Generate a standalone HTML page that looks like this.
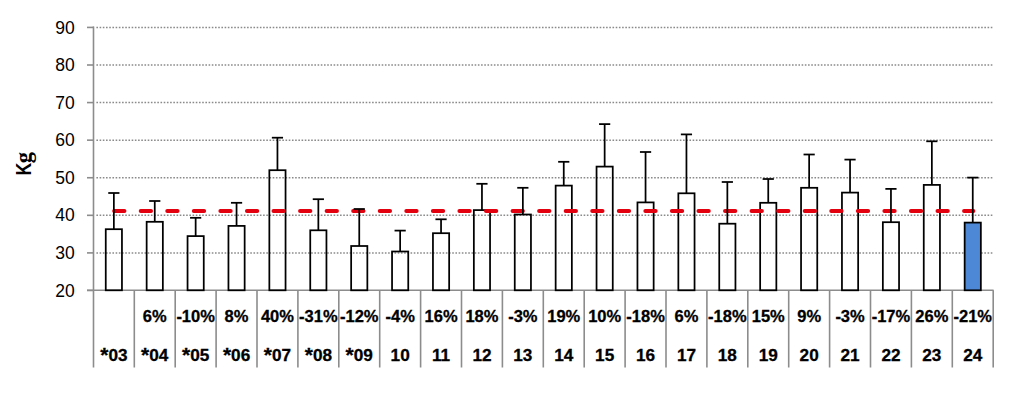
<!DOCTYPE html><html><head><meta charset="utf-8"><style>html,body{margin:0;padding:0;background:#fff;width:1024px;height:410px;overflow:hidden}svg{display:block}text{font-family:"Liberation Sans",sans-serif}</style></head><body>
<svg width="1024" height="410" viewBox="0 0 1024 410">
<rect width="1024" height="410" fill="#fff"/>
<line x1="96.4" y1="27.42" x2="993" y2="27.42" stroke="#8a8a8a" stroke-width="1.5" stroke-dasharray="1.6 1.6056"/>
<line x1="96.4" y1="65.00" x2="993" y2="65.00" stroke="#8a8a8a" stroke-width="1.5" stroke-dasharray="1.6 1.6056"/>
<line x1="96.4" y1="102.58" x2="993" y2="102.58" stroke="#8a8a8a" stroke-width="1.5" stroke-dasharray="1.6 1.6056"/>
<line x1="96.4" y1="140.16" x2="993" y2="140.16" stroke="#8a8a8a" stroke-width="1.5" stroke-dasharray="1.6 1.6056"/>
<line x1="96.4" y1="177.74" x2="993" y2="177.74" stroke="#8a8a8a" stroke-width="1.5" stroke-dasharray="1.6 1.6056"/>
<line x1="96.4" y1="215.32" x2="993" y2="215.32" stroke="#8a8a8a" stroke-width="1.5" stroke-dasharray="1.6 1.6056"/>
<line x1="96.4" y1="252.90" x2="993" y2="252.90" stroke="#8a8a8a" stroke-width="1.5" stroke-dasharray="1.6 1.6056"/>
<line x1="87" y1="27.42" x2="94" y2="27.42" stroke="#8c8c8c" stroke-width="1.6"/>
<text x="74.8" y="33.52" font-size="17.5" text-anchor="end" fill="#000">90</text>
<line x1="87" y1="65.00" x2="94" y2="65.00" stroke="#8c8c8c" stroke-width="1.6"/>
<text x="74.8" y="71.10" font-size="17.5" text-anchor="end" fill="#000">80</text>
<line x1="87" y1="102.58" x2="94" y2="102.58" stroke="#8c8c8c" stroke-width="1.6"/>
<text x="74.8" y="108.68" font-size="17.5" text-anchor="end" fill="#000">70</text>
<line x1="87" y1="140.16" x2="94" y2="140.16" stroke="#8c8c8c" stroke-width="1.6"/>
<text x="74.8" y="146.26" font-size="17.5" text-anchor="end" fill="#000">60</text>
<line x1="87" y1="177.74" x2="94" y2="177.74" stroke="#8c8c8c" stroke-width="1.6"/>
<text x="74.8" y="183.84" font-size="17.5" text-anchor="end" fill="#000">50</text>
<line x1="87" y1="215.32" x2="94" y2="215.32" stroke="#8c8c8c" stroke-width="1.6"/>
<text x="74.8" y="221.42" font-size="17.5" text-anchor="end" fill="#000">40</text>
<line x1="87" y1="252.90" x2="94" y2="252.90" stroke="#8c8c8c" stroke-width="1.6"/>
<text x="74.8" y="259.00" font-size="17.5" text-anchor="end" fill="#000">30</text>
<line x1="87" y1="290.48" x2="94" y2="290.48" stroke="#8c8c8c" stroke-width="1.6"/>
<text x="74.8" y="296.58" font-size="17.5" text-anchor="end" fill="#000">20</text>
<line x1="93.5" y1="26.6" x2="93.5" y2="367.5" stroke="#8c8c8c" stroke-width="1.6"/>
<line x1="87" y1="290.3" x2="993.6" y2="290.3" stroke="#8c8c8c" stroke-width="1.6"/>
<line x1="134.30" y1="290.3" x2="134.30" y2="367.5" stroke="#8c8c8c" stroke-width="1.6"/>
<line x1="175.20" y1="290.3" x2="175.20" y2="367.5" stroke="#8c8c8c" stroke-width="1.6"/>
<line x1="216.10" y1="290.3" x2="216.10" y2="367.5" stroke="#8c8c8c" stroke-width="1.6"/>
<line x1="257.00" y1="290.3" x2="257.00" y2="367.5" stroke="#8c8c8c" stroke-width="1.6"/>
<line x1="297.90" y1="290.3" x2="297.90" y2="367.5" stroke="#8c8c8c" stroke-width="1.6"/>
<line x1="338.80" y1="290.3" x2="338.80" y2="367.5" stroke="#8c8c8c" stroke-width="1.6"/>
<line x1="379.70" y1="290.3" x2="379.70" y2="367.5" stroke="#8c8c8c" stroke-width="1.6"/>
<line x1="420.60" y1="290.3" x2="420.60" y2="367.5" stroke="#8c8c8c" stroke-width="1.6"/>
<line x1="461.50" y1="290.3" x2="461.50" y2="367.5" stroke="#8c8c8c" stroke-width="1.6"/>
<line x1="502.40" y1="290.3" x2="502.40" y2="367.5" stroke="#8c8c8c" stroke-width="1.6"/>
<line x1="543.30" y1="290.3" x2="543.30" y2="367.5" stroke="#8c8c8c" stroke-width="1.6"/>
<line x1="584.20" y1="290.3" x2="584.20" y2="367.5" stroke="#8c8c8c" stroke-width="1.6"/>
<line x1="625.10" y1="290.3" x2="625.10" y2="367.5" stroke="#8c8c8c" stroke-width="1.6"/>
<line x1="666.00" y1="290.3" x2="666.00" y2="367.5" stroke="#8c8c8c" stroke-width="1.6"/>
<line x1="706.90" y1="290.3" x2="706.90" y2="367.5" stroke="#8c8c8c" stroke-width="1.6"/>
<line x1="747.80" y1="290.3" x2="747.80" y2="367.5" stroke="#8c8c8c" stroke-width="1.6"/>
<line x1="788.70" y1="290.3" x2="788.70" y2="367.5" stroke="#8c8c8c" stroke-width="1.6"/>
<line x1="829.60" y1="290.3" x2="829.60" y2="367.5" stroke="#8c8c8c" stroke-width="1.6"/>
<line x1="870.50" y1="290.3" x2="870.50" y2="367.5" stroke="#8c8c8c" stroke-width="1.6"/>
<line x1="911.40" y1="290.3" x2="911.40" y2="367.5" stroke="#8c8c8c" stroke-width="1.6"/>
<line x1="952.30" y1="290.3" x2="952.30" y2="367.5" stroke="#8c8c8c" stroke-width="1.6"/>
<line x1="993.20" y1="290.3" x2="993.20" y2="367.5" stroke="#8c8c8c" stroke-width="1.6"/>
<rect x="105.75" y="229.20" width="16.20" height="61.10" fill="none" stroke="#000" stroke-width="1.75"/>
<rect x="146.65" y="221.80" width="16.20" height="68.50" fill="none" stroke="#000" stroke-width="1.75"/>
<rect x="187.55" y="236.10" width="16.20" height="54.20" fill="none" stroke="#000" stroke-width="1.75"/>
<rect x="228.45" y="225.90" width="16.20" height="64.40" fill="none" stroke="#000" stroke-width="1.75"/>
<rect x="269.35" y="170.20" width="16.20" height="120.10" fill="none" stroke="#000" stroke-width="1.75"/>
<rect x="310.25" y="230.30" width="16.20" height="60.00" fill="none" stroke="#000" stroke-width="1.75"/>
<rect x="351.15" y="246.00" width="16.20" height="44.30" fill="none" stroke="#000" stroke-width="1.75"/>
<rect x="392.05" y="251.50" width="16.20" height="38.80" fill="none" stroke="#000" stroke-width="1.75"/>
<rect x="432.95" y="233.20" width="16.20" height="57.10" fill="none" stroke="#000" stroke-width="1.75"/>
<rect x="473.85" y="210.10" width="16.20" height="80.20" fill="none" stroke="#000" stroke-width="1.75"/>
<rect x="514.75" y="214.50" width="16.20" height="75.80" fill="none" stroke="#000" stroke-width="1.75"/>
<rect x="555.65" y="185.60" width="16.20" height="104.70" fill="none" stroke="#000" stroke-width="1.75"/>
<rect x="596.55" y="166.60" width="16.20" height="123.70" fill="none" stroke="#000" stroke-width="1.75"/>
<rect x="637.45" y="202.40" width="16.20" height="87.90" fill="none" stroke="#000" stroke-width="1.75"/>
<rect x="678.35" y="193.30" width="16.20" height="97.00" fill="none" stroke="#000" stroke-width="1.75"/>
<rect x="719.25" y="223.70" width="16.20" height="66.60" fill="none" stroke="#000" stroke-width="1.75"/>
<rect x="760.15" y="202.80" width="16.20" height="87.50" fill="none" stroke="#000" stroke-width="1.75"/>
<rect x="801.05" y="187.80" width="16.20" height="102.50" fill="none" stroke="#000" stroke-width="1.75"/>
<rect x="841.95" y="192.60" width="16.20" height="97.70" fill="none" stroke="#000" stroke-width="1.75"/>
<rect x="882.85" y="222.20" width="16.20" height="68.10" fill="none" stroke="#000" stroke-width="1.75"/>
<rect x="923.75" y="184.90" width="16.20" height="105.40" fill="none" stroke="#000" stroke-width="1.75"/>
<rect x="964.65" y="222.60" width="16.20" height="67.70" fill="#4d88d6" stroke="#000" stroke-width="1.75"/>
<line x1="114.15" y1="211.1" x2="973.35" y2="211.1" stroke="#e3000f" stroke-width="4" stroke-linecap="round" stroke-dasharray="10.3 16.26"/>
<line x1="113.85" y1="229.20" x2="113.85" y2="193.00" stroke="#000" stroke-width="1.75"/>
<line x1="108.25" y1="193.00" x2="119.45" y2="193.00" stroke="#000" stroke-width="1.75"/>
<line x1="154.75" y1="221.80" x2="154.75" y2="201.00" stroke="#000" stroke-width="1.75"/>
<line x1="149.15" y1="201.00" x2="160.35" y2="201.00" stroke="#000" stroke-width="1.75"/>
<line x1="195.65" y1="236.10" x2="195.65" y2="217.80" stroke="#000" stroke-width="1.75"/>
<line x1="190.05" y1="217.80" x2="201.25" y2="217.80" stroke="#000" stroke-width="1.75"/>
<line x1="236.55" y1="225.90" x2="236.55" y2="202.80" stroke="#000" stroke-width="1.75"/>
<line x1="230.95" y1="202.80" x2="242.15" y2="202.80" stroke="#000" stroke-width="1.75"/>
<line x1="277.45" y1="170.20" x2="277.45" y2="137.70" stroke="#000" stroke-width="1.75"/>
<line x1="271.85" y1="137.70" x2="283.05" y2="137.70" stroke="#000" stroke-width="1.75"/>
<line x1="318.35" y1="230.30" x2="318.35" y2="199.20" stroke="#000" stroke-width="1.75"/>
<line x1="312.75" y1="199.20" x2="323.95" y2="199.20" stroke="#000" stroke-width="1.75"/>
<line x1="359.25" y1="246.00" x2="359.25" y2="209.00" stroke="#000" stroke-width="1.75"/>
<line x1="353.65" y1="209.00" x2="364.85" y2="209.00" stroke="#000" stroke-width="1.75"/>
<line x1="400.15" y1="251.50" x2="400.15" y2="230.60" stroke="#000" stroke-width="1.75"/>
<line x1="394.55" y1="230.60" x2="405.75" y2="230.60" stroke="#000" stroke-width="1.75"/>
<line x1="441.05" y1="233.20" x2="441.05" y2="219.30" stroke="#000" stroke-width="1.75"/>
<line x1="435.45" y1="219.30" x2="446.65" y2="219.30" stroke="#000" stroke-width="1.75"/>
<line x1="481.95" y1="210.10" x2="481.95" y2="183.80" stroke="#000" stroke-width="1.75"/>
<line x1="476.35" y1="183.80" x2="487.55" y2="183.80" stroke="#000" stroke-width="1.75"/>
<line x1="522.85" y1="214.50" x2="522.85" y2="187.80" stroke="#000" stroke-width="1.75"/>
<line x1="517.25" y1="187.80" x2="528.45" y2="187.80" stroke="#000" stroke-width="1.75"/>
<line x1="563.75" y1="185.60" x2="563.75" y2="161.80" stroke="#000" stroke-width="1.75"/>
<line x1="558.15" y1="161.80" x2="569.35" y2="161.80" stroke="#000" stroke-width="1.75"/>
<line x1="604.65" y1="166.60" x2="604.65" y2="124.10" stroke="#000" stroke-width="1.75"/>
<line x1="599.05" y1="124.10" x2="610.25" y2="124.10" stroke="#000" stroke-width="1.75"/>
<line x1="645.55" y1="202.40" x2="645.55" y2="152.00" stroke="#000" stroke-width="1.75"/>
<line x1="639.95" y1="152.00" x2="651.15" y2="152.00" stroke="#000" stroke-width="1.75"/>
<line x1="686.45" y1="193.30" x2="686.45" y2="134.40" stroke="#000" stroke-width="1.75"/>
<line x1="680.85" y1="134.40" x2="692.05" y2="134.40" stroke="#000" stroke-width="1.75"/>
<line x1="727.35" y1="223.70" x2="727.35" y2="182.00" stroke="#000" stroke-width="1.75"/>
<line x1="721.75" y1="182.00" x2="732.95" y2="182.00" stroke="#000" stroke-width="1.75"/>
<line x1="768.25" y1="202.80" x2="768.25" y2="179.00" stroke="#000" stroke-width="1.75"/>
<line x1="762.65" y1="179.00" x2="773.85" y2="179.00" stroke="#000" stroke-width="1.75"/>
<line x1="809.15" y1="187.80" x2="809.15" y2="154.50" stroke="#000" stroke-width="1.75"/>
<line x1="803.55" y1="154.50" x2="814.75" y2="154.50" stroke="#000" stroke-width="1.75"/>
<line x1="850.05" y1="192.60" x2="850.05" y2="159.60" stroke="#000" stroke-width="1.75"/>
<line x1="844.45" y1="159.60" x2="855.65" y2="159.60" stroke="#000" stroke-width="1.75"/>
<line x1="890.95" y1="222.20" x2="890.95" y2="188.90" stroke="#000" stroke-width="1.75"/>
<line x1="885.35" y1="188.90" x2="896.55" y2="188.90" stroke="#000" stroke-width="1.75"/>
<line x1="931.85" y1="184.90" x2="931.85" y2="141.30" stroke="#000" stroke-width="1.75"/>
<line x1="926.25" y1="141.30" x2="937.45" y2="141.30" stroke="#000" stroke-width="1.75"/>
<line x1="972.75" y1="222.60" x2="972.75" y2="177.60" stroke="#000" stroke-width="1.75"/>
<line x1="967.15" y1="177.60" x2="978.35" y2="177.60" stroke="#000" stroke-width="1.75"/>
<g transform="translate(30.8,175.4) rotate(-90)"><text x="0" y="0" font-size="21.5" font-weight="bold" fill="#000" transform="scale(0.82,1)">K</text><text x="0" y="0" font-size="22.5" font-weight="bold" fill="#000" transform="translate(12.2,0) scale(1.0,1)" style="font-family:'Liberation Serif',serif">g</text></g>
<text x="113.85" y="360.7" font-size="17.2" font-weight="bold" text-anchor="middle" fill="#000" stroke="#000" stroke-width="0.3"><tspan font-size="21" dy="0.8">*</tspan><tspan dy="-0.8">03</tspan></text>
<text x="154.75" y="322.1" font-size="16.5" font-weight="bold" text-anchor="middle" fill="#000" stroke="#000" stroke-width="0.3">6%</text>
<text x="154.75" y="360.7" font-size="17.2" font-weight="bold" text-anchor="middle" fill="#000" stroke="#000" stroke-width="0.3"><tspan font-size="21" dy="0.8">*</tspan><tspan dy="-0.8">04</tspan></text>
<text x="195.65" y="322.1" font-size="16.5" font-weight="bold" text-anchor="middle" fill="#000" stroke="#000" stroke-width="0.3">-10%</text>
<text x="195.65" y="360.7" font-size="17.2" font-weight="bold" text-anchor="middle" fill="#000" stroke="#000" stroke-width="0.3"><tspan font-size="21" dy="0.8">*</tspan><tspan dy="-0.8">05</tspan></text>
<text x="236.55" y="322.1" font-size="16.5" font-weight="bold" text-anchor="middle" fill="#000" stroke="#000" stroke-width="0.3">8%</text>
<text x="236.55" y="360.7" font-size="17.2" font-weight="bold" text-anchor="middle" fill="#000" stroke="#000" stroke-width="0.3"><tspan font-size="21" dy="0.8">*</tspan><tspan dy="-0.8">06</tspan></text>
<text x="277.45" y="322.1" font-size="16.5" font-weight="bold" text-anchor="middle" fill="#000" stroke="#000" stroke-width="0.3">40%</text>
<text x="277.45" y="360.7" font-size="17.2" font-weight="bold" text-anchor="middle" fill="#000" stroke="#000" stroke-width="0.3"><tspan font-size="21" dy="0.8">*</tspan><tspan dy="-0.8">07</tspan></text>
<text x="318.35" y="322.1" font-size="16.5" font-weight="bold" text-anchor="middle" fill="#000" stroke="#000" stroke-width="0.3">-31%</text>
<text x="318.35" y="360.7" font-size="17.2" font-weight="bold" text-anchor="middle" fill="#000" stroke="#000" stroke-width="0.3"><tspan font-size="21" dy="0.8">*</tspan><tspan dy="-0.8">08</tspan></text>
<text x="359.25" y="322.1" font-size="16.5" font-weight="bold" text-anchor="middle" fill="#000" stroke="#000" stroke-width="0.3">-12%</text>
<text x="359.25" y="360.7" font-size="17.2" font-weight="bold" text-anchor="middle" fill="#000" stroke="#000" stroke-width="0.3"><tspan font-size="21" dy="0.8">*</tspan><tspan dy="-0.8">09</tspan></text>
<text x="400.15" y="322.1" font-size="16.5" font-weight="bold" text-anchor="middle" fill="#000" stroke="#000" stroke-width="0.3">-4%</text>
<text x="400.15" y="360.7" font-size="17.2" font-weight="bold" text-anchor="middle" fill="#000" stroke="#000" stroke-width="0.3">10</text>
<text x="441.05" y="322.1" font-size="16.5" font-weight="bold" text-anchor="middle" fill="#000" stroke="#000" stroke-width="0.3">16%</text>
<text x="441.05" y="360.7" font-size="17.2" font-weight="bold" text-anchor="middle" fill="#000" stroke="#000" stroke-width="0.3">11</text>
<text x="481.95" y="322.1" font-size="16.5" font-weight="bold" text-anchor="middle" fill="#000" stroke="#000" stroke-width="0.3">18%</text>
<text x="481.95" y="360.7" font-size="17.2" font-weight="bold" text-anchor="middle" fill="#000" stroke="#000" stroke-width="0.3">12</text>
<text x="522.85" y="322.1" font-size="16.5" font-weight="bold" text-anchor="middle" fill="#000" stroke="#000" stroke-width="0.3">-3%</text>
<text x="522.85" y="360.7" font-size="17.2" font-weight="bold" text-anchor="middle" fill="#000" stroke="#000" stroke-width="0.3">13</text>
<text x="563.75" y="322.1" font-size="16.5" font-weight="bold" text-anchor="middle" fill="#000" stroke="#000" stroke-width="0.3">19%</text>
<text x="563.75" y="360.7" font-size="17.2" font-weight="bold" text-anchor="middle" fill="#000" stroke="#000" stroke-width="0.3">14</text>
<text x="604.65" y="322.1" font-size="16.5" font-weight="bold" text-anchor="middle" fill="#000" stroke="#000" stroke-width="0.3">10%</text>
<text x="604.65" y="360.7" font-size="17.2" font-weight="bold" text-anchor="middle" fill="#000" stroke="#000" stroke-width="0.3">15</text>
<text x="645.55" y="322.1" font-size="16.5" font-weight="bold" text-anchor="middle" fill="#000" stroke="#000" stroke-width="0.3">-18%</text>
<text x="645.55" y="360.7" font-size="17.2" font-weight="bold" text-anchor="middle" fill="#000" stroke="#000" stroke-width="0.3">16</text>
<text x="686.45" y="322.1" font-size="16.5" font-weight="bold" text-anchor="middle" fill="#000" stroke="#000" stroke-width="0.3">6%</text>
<text x="686.45" y="360.7" font-size="17.2" font-weight="bold" text-anchor="middle" fill="#000" stroke="#000" stroke-width="0.3">17</text>
<text x="727.35" y="322.1" font-size="16.5" font-weight="bold" text-anchor="middle" fill="#000" stroke="#000" stroke-width="0.3">-18%</text>
<text x="727.35" y="360.7" font-size="17.2" font-weight="bold" text-anchor="middle" fill="#000" stroke="#000" stroke-width="0.3">18</text>
<text x="768.25" y="322.1" font-size="16.5" font-weight="bold" text-anchor="middle" fill="#000" stroke="#000" stroke-width="0.3">15%</text>
<text x="768.25" y="360.7" font-size="17.2" font-weight="bold" text-anchor="middle" fill="#000" stroke="#000" stroke-width="0.3">19</text>
<text x="809.15" y="322.1" font-size="16.5" font-weight="bold" text-anchor="middle" fill="#000" stroke="#000" stroke-width="0.3">9%</text>
<text x="809.15" y="360.7" font-size="17.2" font-weight="bold" text-anchor="middle" fill="#000" stroke="#000" stroke-width="0.3">20</text>
<text x="850.05" y="322.1" font-size="16.5" font-weight="bold" text-anchor="middle" fill="#000" stroke="#000" stroke-width="0.3">-3%</text>
<text x="850.05" y="360.7" font-size="17.2" font-weight="bold" text-anchor="middle" fill="#000" stroke="#000" stroke-width="0.3">21</text>
<text x="890.95" y="322.1" font-size="16.5" font-weight="bold" text-anchor="middle" fill="#000" stroke="#000" stroke-width="0.3">-17%</text>
<text x="890.95" y="360.7" font-size="17.2" font-weight="bold" text-anchor="middle" fill="#000" stroke="#000" stroke-width="0.3">22</text>
<text x="931.85" y="322.1" font-size="16.5" font-weight="bold" text-anchor="middle" fill="#000" stroke="#000" stroke-width="0.3">26%</text>
<text x="931.85" y="360.7" font-size="17.2" font-weight="bold" text-anchor="middle" fill="#000" stroke="#000" stroke-width="0.3">23</text>
<text x="972.75" y="322.1" font-size="16.5" font-weight="bold" text-anchor="middle" fill="#000" stroke="#000" stroke-width="0.3">-21%</text>
<text x="972.75" y="360.7" font-size="17.2" font-weight="bold" text-anchor="middle" fill="#000" stroke="#000" stroke-width="0.3">24</text>
</svg></body></html>
